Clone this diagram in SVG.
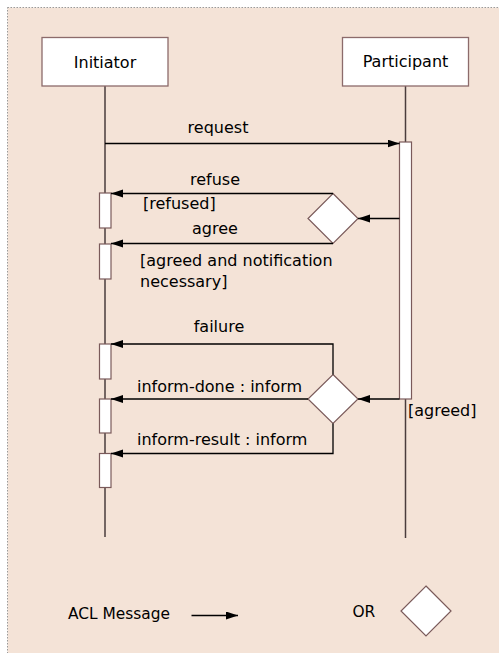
<svg xmlns="http://www.w3.org/2000/svg" width="499" height="653" viewBox="0 0 499 653">
  <style>
    text { font-family: "DejaVu Sans", Verdana, sans-serif; font-size: 16px; fill: #000; }
    .legend-text { font-size: 15.4px; }
    .box { fill: #fff; stroke: #8c6b6b; stroke-width: 1.3; }
    .bar { fill: #fff; stroke: #7a5a5a; stroke-width: 1.2; }
    .life { stroke: #4a3c3c; stroke-width: 1.5; fill: none; }
    .head { stroke: #000; stroke-width: 1.3; fill: none; marker-end: url(#arrow); }
    .gate { fill: #fff; stroke: #7a5a5a; stroke-width: 1.2; }
  </style>
  <defs>
    <marker id="arrow" markerUnits="userSpaceOnUse" markerWidth="13" markerHeight="9" refX="12" refY="4" orient="auto">
      <path d="M0,0 L12,4 L0,8 z" fill="#000"/>
    </marker>
  </defs>

  <!-- canvas -->
  <rect x="7.5" y="7.5" width="500" height="660" fill="#f4e3d7" stroke="#9a9a9a" stroke-width="1" stroke-dasharray="1.5,1.5"/>

  <!-- lifelines -->
  <g id="lifelines">
    <line class="life" x1="105" y1="86" x2="105" y2="537"/>
    <line class="life" x1="405.5" y1="86" x2="405.5" y2="142" stroke="#000"/>
    <line class="life" x1="405.5" y1="399" x2="405.5" y2="538" stroke="#000"/>
  </g>

  <g id="initiator">
    <rect class="box" x="42" y="37.5" width="126" height="48.5"/>
    <text x="105" y="68" text-anchor="middle">Initiator</text>
  </g>
  <g id="participant">
    <rect class="box" x="342.5" y="37.5" width="126" height="48.5"/>
    <text x="405.5" y="67" text-anchor="middle">Participant</text>
  </g>

  <!-- activation bars -->
  <g id="participant-activation">
    <rect class="bar" x="399.5" y="142" width="12" height="257"/>
  </g>
  <g id="initiator-activations">
    <rect class="bar" x="99.5" y="193" width="11.5" height="35"/>
    <rect class="bar" x="99.5" y="244" width="11.5" height="35"/>
    <rect class="bar" x="99.5" y="344" width="11.5" height="35"/>
    <rect class="bar" x="99.5" y="399" width="11.5" height="34"/>
    <rect class="bar" x="99.5" y="453.5" width="11.5" height="34"/>
  </g>

  <!-- decision gates -->
  <g id="gate-1">
    <polygon class="gate" points="333,193.5 358,218.5 333,243.5 308,218.5"/>
  </g>
  <g id="gate-2">
    <polygon class="gate" points="333,374.5 358,399 333,423.5 308,399"/>
  </g>

  <!-- messages -->
  <g id="connectors">
    <line class="head" x1="105" y1="143.5" x2="399.5" y2="143.5"/>
    <line class="head" x1="399.5" y1="218.5" x2="358" y2="218.5"/>
    <polyline class="head" points="333,193.5 111,193.5"/>
    <polyline class="head" points="333,243.5 111,243.5"/>
    <line class="head" x1="399.5" y1="399" x2="358" y2="399"/>
    <polyline class="head" points="333,374.5 333,344 111,344"/>
    <line class="head" x1="308" y1="399" x2="111" y2="399"/>
    <polyline class="head" points="333,423.5 333,453.5 111,453.5"/>
  </g>

  <!-- message labels -->
  <g id="labels">
    <text x="218" y="133" text-anchor="middle">request</text>
    <text x="215" y="185" text-anchor="middle">refuse</text>
    <text x="143" y="209">[refused]</text>
    <text x="215" y="234" text-anchor="middle">agree</text>
    <text x="140" y="266">[agreed and notification</text>
    <text x="140" y="287">necessary]</text>
    <text x="219" y="332" text-anchor="middle">failure</text>
    <text x="137" y="392">inform-done : inform</text>
    <text x="137" y="445">inform-result : inform</text>
    <text x="408" y="416">[agreed]</text>
  </g>

  <!-- legend -->
  <g id="legend">
    <text class="legend-text" x="68" y="619">ACL Message</text>
    <line class="head" x1="191.5" y1="615.5" x2="238" y2="615.5"/>
    <text class="legend-text" x="352.5" y="617">OR</text>
    <polygon class="gate" points="426,586 451,611 426,636 401,611"/>
  </g>
</svg>
